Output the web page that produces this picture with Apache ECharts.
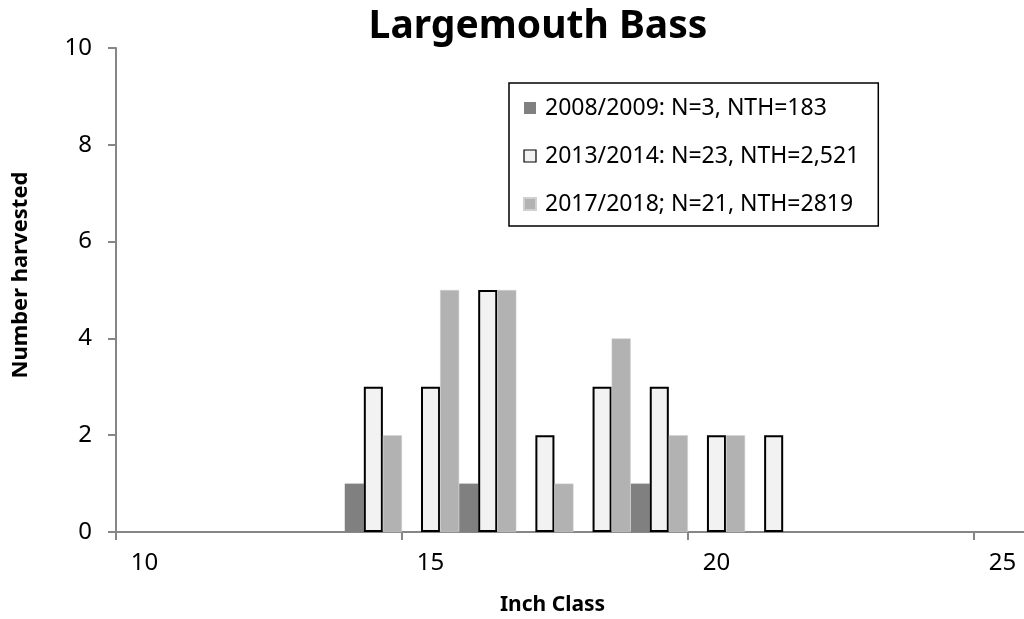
<!DOCTYPE html>
<html>
<head>
<meta charset="utf-8">
<script src="https://cdn.jsdelivr.net/npm/echarts@6/dist/echarts.min.js"></script>
<style>
  html, body { margin: 0; padding: 0; background: #fff; }
  #chart { width: 1024px; height: 619px; }
</style>
</head>
<body>
<div id="chart"></div>
<script>
// inch classes on the x axis
const inchClasses = ["10", "11", "12", "13", "14", "15", "16", "17", "18", "19", "20", "21", "22", "23", "24", "25"];

// number harvested per inch class (null = no bar)
const season0809 = [null, null, null, null, 1, null, 1, null, null, 1, null, null, null, null, null, null];
const season1314 = [null, null, null, null, 3, 3, 5, 2, 3, 3, 2, 2, null, null, null, null];
const season1718 = [null, null, null, null, 2, 5, 5, 1, 4, 2, 2, null, null, null, null, null];

const seriesNames = [
  "2008/2009: N=3, NTH=183",
  "2013/2014: N=23, NTH=2,521",
  "2017/2018; N=21, NTH=2819",
];

const yTicks = { min: 0, max: 10, interval: 2 };

const font = "'Noto Sans', 'Open Sans', sans-serif";
const axisGray = "#868686";

const chart = echarts.init(document.getElementById("chart"), null, { renderer: "canvas" });

const option = {
  backgroundColor: "#ffffff",
  animation: false,
  title: {
    text: "Largemouth Bass",
    left: 533,
    textAlign: "center",
    top: 2,
    textStyle: { fontFamily: font, fontSize: 39, fontWeight: "bold", color: "#000" },
  },
  legend: {
    orient: "vertical",
    left: 509,
    top: 83,
    padding: [13, 19, 10, 14],
    itemWidth: 12,
    itemHeight: 12,
    itemGap: 24,
    icon: "rect",
    borderColor: "#000",
    borderWidth: 1.5,
    textStyle: { fontFamily: font, fontSize: 23, color: "#000", lineHeight: 24, padding: [0, 0, 0, 4] },
    data: [
      { name: seriesNames[0] },
      { name: seriesNames[1], itemStyle: { borderWidth: 1.2, borderColor: "#000" } },
      { name: seriesNames[2] },
    ],
  },
  // plot area runs past the right edge of the picture, as in the original
  grid: { left: 116, width: 915, top: 48, bottom: 87, outerBoundsMode: "none", containLabel: false },
  xAxis: {
    type: "category",
    data: inchClasses,
    name: "Inch Class",
    nameLocation: "middle",
    nameGap: 63,
    nameTextStyle: { fontFamily: font, fontSize: 21, fontWeight: "bold", color: "#000", padding: [0, 42, 0, 0] },
    axisLine: { lineStyle: { color: axisGray, width: 2 } },
    axisTick: { show: true, interval: 4, length: 8, alignWithLabel: false, lineStyle: { color: axisGray, width: 2 } },
    axisLabel: { interval: 4, margin: 19, fontFamily: font, fontSize: 24, color: "#000" },
    splitLine: { show: false },
  },
  yAxis: {
    type: "value",
    min: yTicks.min,
    max: yTicks.max,
    interval: yTicks.interval,
    name: "Number harvested",
    nameLocation: "middle",
    nameRotate: 90,
    nameGap: 84,
    nameTextStyle: { fontFamily: font, fontSize: 22, fontWeight: "bold", color: "#000", padding: [0, 0, 0, 30] },
    axisLine: { show: true, lineStyle: { color: axisGray, width: 2 } },
    axisTick: { show: true, length: 8, lineStyle: { color: axisGray, width: 2 } },
    axisLabel: { margin: 24, fontFamily: font, fontSize: 24, color: "#000" },
    splitLine: { show: false },
  },
  series: [
    {
      name: seriesNames[0],
      type: "bar",
      data: season0809,
      barGap: "0%",
      barCategoryGap: "0%",
      itemStyle: { color: "#808080" },
    },
    {
      name: seriesNames[1],
      type: "bar",
      data: season1314,
      barGap: "0%",
      barCategoryGap: "0%",
      itemStyle: { color: "#f2f2f2", borderColor: "#000", borderWidth: 2 },
    },
    {
      name: seriesNames[2],
      type: "bar",
      data: season1718,
      barGap: "0%",
      barCategoryGap: "0%",
      itemStyle: { color: "#b2b2b2", borderColor: "#d0d0d0", borderWidth: 0.5 },
    },
  ],
};

chart.setOption(option);
</script>
</body>
</html>
